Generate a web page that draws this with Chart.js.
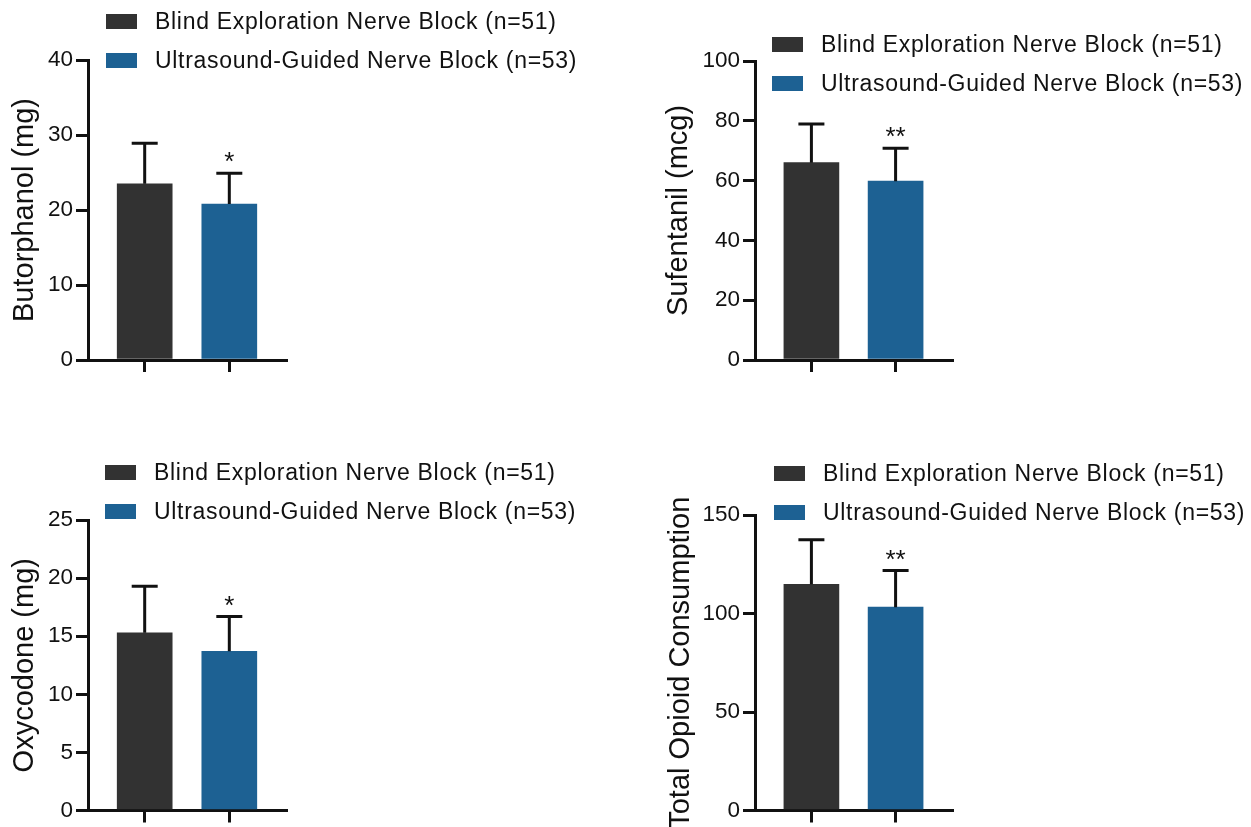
<!DOCTYPE html>
<html>
<head>
<meta charset="utf-8">
<script src="https://cdn.jsdelivr.net/npm/chart.js@4.4.1/dist/chart.umd.min.js"></script>
<style>
  html, body { margin: 0; padding: 0; background: #fff; }
  body { width: 1251px; height: 827px; position: relative; overflow: hidden; font-family: "Liberation Sans", Arial, sans-serif; }
  canvas { position: absolute; }
  .leg { position: absolute; display: flex; align-items: center; height: 26px; font-size: 23px; letter-spacing: 0.7px; color: #111; white-space: nowrap; }
  .leg i { display: inline-block; width: 31px; height: 15px; margin-right: 18px; }
</style>
</head>
<body>
<script>
const groups = ['Blind Exploration Nerve Block (n=51)', 'Ultrasound-Guided Nerve Block (n=53)'];
const yTitles = ['Butorphanol (mg)', 'Sufentanil (mcg)', 'Oxycodone (mg)', 'Total Opioid Consumption'];
const blindMean = [23.5, 66.0, 15.3, 114.8];
const blindSD = [5.4, 12.9, 4.0, 22.6];
const usgMean = [20.8, 59.8, 13.7, 103.2];
const usgSD = [4.1, 11.0, 3.0, 18.6];
const marks = ['*', '**', '*', '**'];
const yMax = [40, 100, 25, 150];
const yStep = [10, 20, 5, 50];
const colors = ['#323232', '#1d6193'];

// page placement of each panel (pixels)
const panels = [
  { left: 0, top: 0, w: 340, h: 400, axisW: 88, padTop: 60, padRight: 54, xAxisH: 40, legX: 106, legY: 21.5 },
  { left: 654, top: 0, w: 340, h: 400, axisW: 101, padTop: 61, padRight: 42, xAxisH: 40, legX: 772, legY: 44 },
  { left: 0, top: 420, w: 340, h: 407, axisW: 88, padTop: 100, padRight: 54, xAxisH: 9, legX: 105, legY: 472.5 },
  { left: 656, top: 420, w: 340, h: 407, axisW: 99, padTop: 95, padRight: 44, xAxisH: 14, legX: 774, legY: 473.5 },
];

const ink = '#111';
Chart.defaults.font.family = '"Liberation Sans", Arial, sans-serif';
Chart.defaults.color = ink;

// upward SD whiskers plus significance marks
const errorBars = {
  id: 'errorBars',
  afterDatasetsDraw(chart, args, opts) {
    const { ctx } = chart;
    const y = chart.scales.y;
    const meta = chart.getDatasetMeta(0);
    ctx.save();
    ctx.strokeStyle = ink;
    ctx.lineWidth = 3;
    ctx.fillStyle = ink;
    ctx.font = '26px "Liberation Sans", Arial, sans-serif';
    ctx.textAlign = 'center';
    ctx.textBaseline = 'middle';
    meta.data.forEach((bar, i) => {
      const top = y.getPixelForValue(opts.mean[i] + opts.sd[i]);
      ctx.beginPath();
      ctx.moveTo(bar.x, bar.y);
      ctx.lineTo(bar.x, top);
      ctx.moveTo(bar.x - 13, top);
      ctx.lineTo(bar.x + 13, top);
      ctx.stroke();
      if (opts.marks[i]) ctx.fillText(opts.marks[i], bar.x, top - 10);
    });
    ctx.restore();
  }
};

panels.forEach((p, k) => {
  const cv = document.createElement('canvas');
  cv.width = p.w;
  cv.height = p.h;
  cv.style.left = p.left + 'px';
  cv.style.top = p.top + 'px';
  document.body.appendChild(cv);

  const means = [blindMean[k], usgMean[k]];
  const sds = [blindSD[k], usgSD[k]];

  new Chart(cv.getContext('2d'), {
    type: 'bar',
    data: {
      datasets: [{
        data: means.map((v, i) => ({ x: i, y: v })),
        backgroundColor: colors,
        borderWidth: 0,
        barThickness: 55,
      }],
    },
    options: {
      responsive: false,
      animation: false,
      layout: { padding: { left: 0, top: p.padTop, right: p.padRight, bottom: 0 } },
      plugins: {
        legend: { display: false },
        tooltip: { enabled: false },
        errorBars: { mean: means, sd: sds, marks: ['', marks[k]] },
      },
      scales: {
        x: {
          type: 'linear',
          min: -0.67,
          max: 1.67,
          offset: false,
          afterBuildTicks: (s) => { s.ticks = [{ value: 0 }, { value: 1 }]; },
          afterFit: (s) => { s.height = p.xAxisH; },
          ticks: { display: false },
          grid: { offset: false, drawOnChartArea: false, drawTicks: true, tickLength: 12, color: ink, lineWidth: 3 },
          border: { color: ink, width: 3 },
        },
        y: {
          min: 0,
          max: yMax[k],
          afterFit: (s) => { s.width = p.axisW; },
          ticks: { stepSize: yStep[k], padding: 3, font: { size: 22.5 }, color: ink },
          grid: { drawOnChartArea: false, drawTicks: true, tickLength: 12, color: ink, lineWidth: 3 },
          border: { color: ink, width: 3 },
          title: { display: true, text: yTitles[k], font: { size: 29 }, color: ink, padding: { top: 8, bottom: 0 } },
        },
      },
    },
    plugins: [errorBars],
  });

  groups.forEach((g, i) => {
    const row = document.createElement('div');
    row.className = 'leg';
    row.style.left = p.legX + 'px';
    row.style.top = (p.legY + i * 39 - 13) + 'px';
    const sw = document.createElement('i');
    sw.style.background = colors[i];
    row.appendChild(sw);
    row.appendChild(document.createTextNode(g));
    document.body.appendChild(row);
  });
});
</script>
</body>
</html>
